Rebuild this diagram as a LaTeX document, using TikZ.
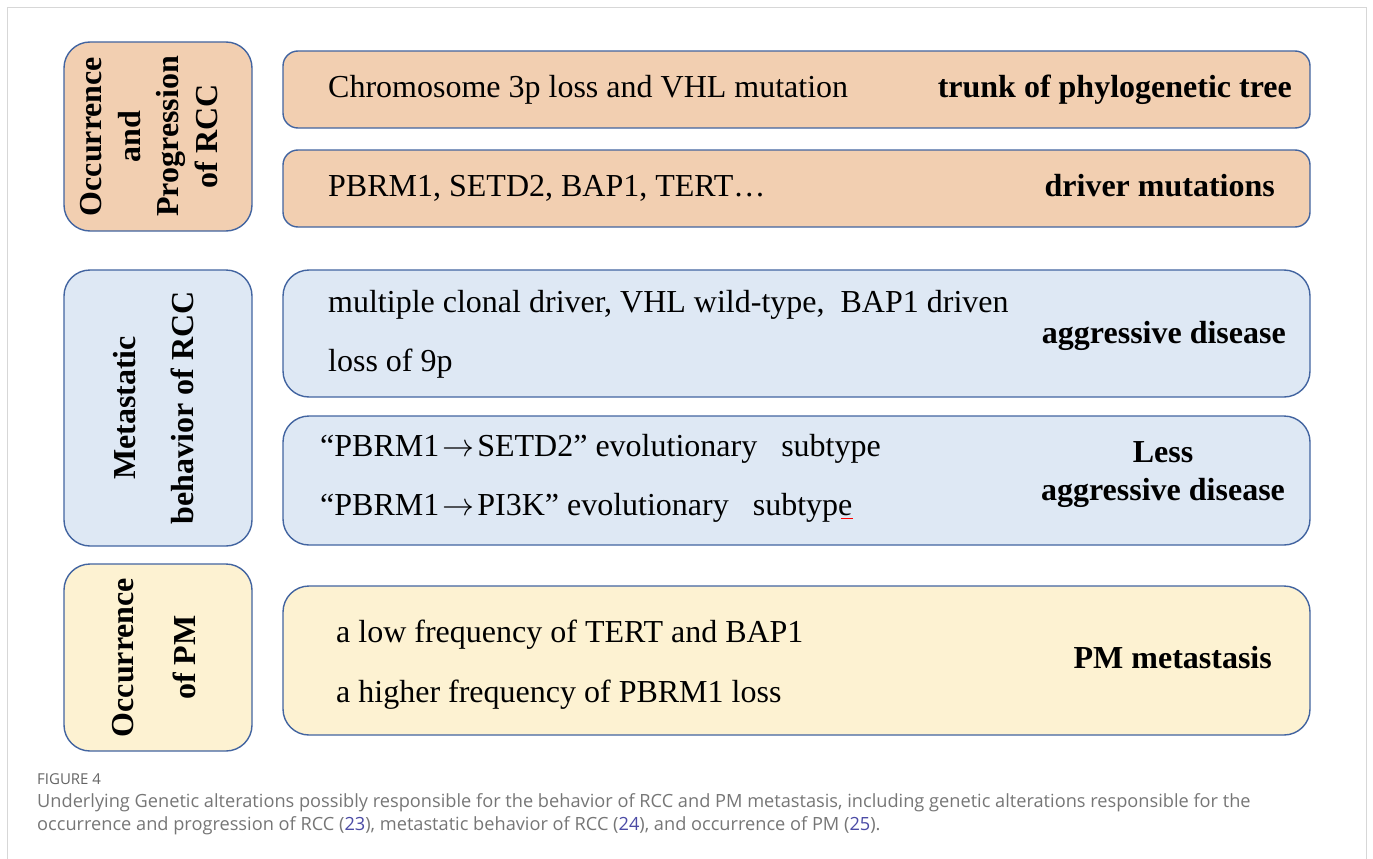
\RequirePackage{fix-cm}
\documentclass[tikz,border=0pt]{standalone}
\usepackage{fontspec}
\setmainfont{Liberation Serif}
\newfontfamily\capfont{Open Sans}
\definecolor{peach}{RGB}{242,207,177}
\definecolor{lblue}{RGB}{222,232,244}
\definecolor{lyellow}{RGB}{253,242,210}
\definecolor{bord}{RGB}{66,100,160}
\definecolor{capgray}{RGB}{118,118,118}
\definecolor{figgray}{RGB}{100,100,100}
\definecolor{refblue}{RGB}{75,75,165}
\definecolor{framegray}{RGB}{215,215,215}
\newcommand{\rarr}{\hspace{3pt}\ensuremath{\mathord{\rightarrow}}\hspace{3pt}}
\newcommand{\wgap}{\hspace{24pt}}
\begin{document}
\begin{tikzpicture}[x=1pt,y=-1pt,
  box/.style={draw=bord, line width=1.4pt, inner sep=0pt, outer sep=0pt},
  txt/.style={inner sep=0pt, font=\fontsize{32}{59}\selectfont, align=left},
  btxt/.style={inner sep=0pt, font=\fontsize{32}{38}\bfseries\selectfont, align=center},
  vtxt/.style={inner sep=0pt, rotate=90, align=center},
  captxt/.style={inner sep=0pt, anchor=west, text=capgray}]
\useasboundingbox (0,0) rectangle (1373,859);
\draw[framegray, line width=1pt] (7,859) -- (7,8) -- (1366,8) -- (1366,859);

% left boxes
\node[box, fill=peach, rounded corners=26pt, minimum width=188pt, minimum height=189pt] (l1) at (158,136.5) {};
\node[box, fill=lblue, rounded corners=26pt, minimum width=188pt, minimum height=276pt] (l2) at (158,408) {};
\node[box, fill=lyellow, rounded corners=26pt, minimum width=188pt, minimum height=187pt] (l3) at (158,657.5) {};

\node[vtxt, font=\fontsize{32}{38.5}\bfseries\selectfont] (l1t) at (149,136.5) {Occurrence\\and\\Progression\\of RCC};
\node[vtxt, font=\fontsize{32}{58}\bfseries\selectfont] (l2t) at (154,408) {Metastatic\\behavior of RCC};
\node[vtxt, font=\fontsize{32}{62}\bfseries\selectfont] (l3t) at (154,657.5) {Occurrence\\of PM};

% right boxes
\node[box, fill=peach, rounded corners=15pt, minimum width=1027pt, minimum height=77pt] (r1) at (796.5,89.5) {};
\node[box, fill=peach, rounded corners=15pt, minimum width=1027pt, minimum height=77pt] (r2) at (796.5,188.5) {};
\node[box, fill=lblue, rounded corners=26pt, minimum width=1027pt, minimum height=127pt] (r3) at (796.5,333.5) {};
\node[box, fill=lblue, rounded corners=26pt, minimum width=1027pt, minimum height=129pt] (r4) at (796.5,480.5) {};
\node[box, fill=lyellow, rounded corners=26pt, minimum width=1027pt, minimum height=149pt] (r5) at (796.5,660.5) {};

% texts
\node[txt, anchor=base west] (t1) at (328,97) {Chromosome 3p loss and VHL mutation};
\node[btxt, anchor=base east] (b1) at (1292,97) {trunk of phylogenetic tree};
\node[txt, anchor=base west] (t2) at (328,196) {PBRM1, SETD2, BAP1, TERT…};
\node[btxt, anchor=base east] (b2) at (1275,196) {driver mutations};

\node[txt, anchor=base west] (t3a) at (328,312) {multiple clonal driver, VHL wild-type,\ \ BAP1 driven};
\node[txt, anchor=base west] (t3b) at (328,371) {loss of 9p};
\node[btxt, anchor=base east] (b3) at (1286,343) {aggressive disease};

\node[txt, anchor=base west] (t4a) at (320,456) {“PBRM1\rarr SETD2” evolutionary\wgap subtype};
\node[txt, anchor=base west] (t4b) at (320,515) {“PBRM1\rarr PI3K” evolutionary\wgap subtype};
\node[btxt] (b4) at (1163,475) {Less\\aggressive disease};
\draw[red, line width=1pt] (t4b.base east) ++(-12,3) -- ++(12,0);

\node[txt, anchor=base west] (t5a) at (336,642) {a low frequency of TERT and BAP1};
\node[txt, anchor=base west] (t5b) at (336,702) {a higher frequency of PBRM1 loss};
\node[btxt, anchor=base east] (b5) at (1272,668) {PM metastasis};

% caption
\node[captxt, text=figgray, font=\capfont\fontsize{15}{17}\selectfont] (fig) at (37,779) {FIGURE 4};
\node[captxt, font=\capfont\fontsize{18.2}{21}\selectfont] (c1) at (37,803) {Underlying Genetic alterations possibly responsible for the behavior of RCC and PM metastasis, including genetic alterations responsible for the};
\node[captxt, font=\capfont\fontsize{18.2}{21}\selectfont] (c2) at (37,826) {occurrence and progression of RCC (\textcolor{refblue}{23}), metastatic behavior of RCC (\textcolor{refblue}{24}), and occurrence of PM (\textcolor{refblue}{25}).};
\end{tikzpicture}
\end{document}
